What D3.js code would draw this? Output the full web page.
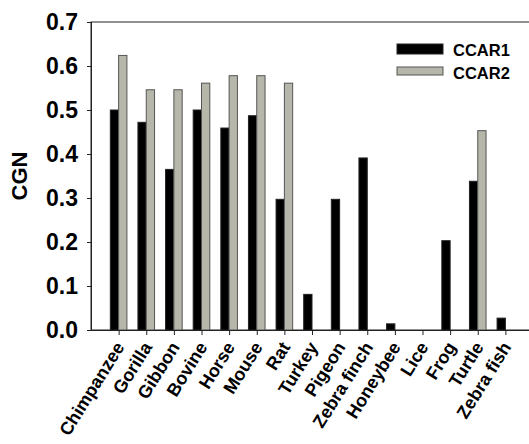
<!DOCTYPE html>
<html>
<head>
<meta charset="utf-8">
<script src="https://cdn.jsdelivr.net/npm/d3@7"></script>
<style>
  body { margin: 0; background: #fff; }
  svg { display: block; font-family: Arial, "Liberation Sans", sans-serif; font-weight: bold; }
</style>
</head>
<body>
<svg id="chart" width="529" height="444"></svg>
<script>
// species on the x axis
const species = ["Chimpanzee", "Gorilla", "Gibbon", "Bovine", "Horse", "Mouse", "Rat",
  "Turkey", "Pigeon", "Zebra finch", "Honeybee", "Lice", "Frog", "Turtle", "Zebra fish"]

// CGN values (null = no bar)
const ccar1 = [0.500, 0.472, 0.365, 0.500, 0.459, 0.487, 0.297,
  0.081, 0.297, 0.391, 0.014, null, 0.203, 0.338, 0.027]
const ccar2 = [0.624, 0.546, 0.546, 0.561, 0.578, 0.578, 0.561,
  null, null, null, null, null, null, 0.453, null]

const yTicks = [0, 0.1, 0.2, 0.3, 0.4, 0.5, 0.6, 0.7]
const seriesNames = ["CCAR1", "CCAR2"]
const seriesColors = ["#000000", "#b6b6aa"]

// plot box ("top" is taken by window.top, so prefix these)
const pLeft = 91, pTop = 22, pBottom = 330, pRight = 533
const barW = 8.3

const svg = d3.select("#chart")

const x = d3.scalePoint().domain(species).range([pLeft, pRight]).padding(1)
const y = d3.scaleLinear().domain([0, 0.7]).range([pBottom, pTop])

// frame (right side runs off the picture)
svg.append("rect")
  .attr("x", pLeft).attr("y", pTop)
  .attr("width", pRight - pLeft).attr("height", pBottom - pTop)
  .attr("fill", "none").attr("stroke", "#222").attr("stroke-width", 1)

// bars
const series = [ccar1, ccar2]
series.forEach((vals, si) => {
  svg.append("g").selectAll("rect")
    .data(species.map((s, i) => ({ s: s, v: vals[i] })).filter(d => d.v != null))
    .join("rect")
    .attr("x", d => si == 0 ? x(d.s) - barW : x(d.s))
    .attr("y", d => y(d.v))
    .attr("width", barW)
    .attr("height", d => pBottom - y(d.v))
    .attr("fill", seriesColors[si])
    .attr("stroke", si == 0 ? "#222" : "#555")
    .attr("stroke-width", 1)
})

// y axis
const yAxis = svg.append("g")
  .attr("transform", `translate(${pLeft},0)`)
  .call(d3.axisLeft(y).tickValues(yTicks).tickFormat(d3.format(".1f")).tickSize(4).tickPadding(9))
yAxis.select(".domain").attr("stroke", "#222")
yAxis.selectAll(".tick line").attr("stroke", "#222")
yAxis.selectAll("text")
  .attr("fill", "#000")
  .style("font-size", "23px")
  .style("font-family", "Arial, 'Liberation Sans', sans-serif")
  .style("font-weight", "bold")

// x axis
const xAxis = svg.append("g")
  .attr("transform", `translate(0,${pBottom})`)
  .call(d3.axisBottom(x).tickSize(5).tickSizeOuter(0))
xAxis.select(".domain").attr("stroke", "#222")
xAxis.selectAll(".tick line").attr("stroke", "#222")
xAxis.selectAll("text")
  .attr("fill", "#000")
  .style("font-size", "18px")
  .style("font-family", "Arial, 'Liberation Sans', sans-serif")
  .style("font-weight", "bold")
  .attr("text-anchor", "end")
  .attr("y", 0).attr("dy", "0")
  .attr("transform", "translate(6,17) rotate(-58)")

// y title
svg.append("text")
  .attr("transform", `translate(27,${(pTop + pBottom) / 2}) rotate(-90)`)
  .attr("text-anchor", "middle")
  .style("font-size", "22px")
  .attr("fill", "#000")
  .text("CGN")

// legend
const leg = svg.append("g")
seriesNames.forEach((n, i) => {
  leg.append("rect")
    .attr("x", 397).attr("y", 44 + i * 23)
    .attr("width", 46).attr("height", i == 0 ? 10 : 8)
    .attr("fill", seriesColors[i])
    .attr("stroke", i == 0 ? "#222" : "#555")
  leg.append("text")
    .attr("x", 453).attr("y", 56 + i * 23)
    .style("font-size", "16.5px")
    .attr("fill", "#000")
    .text(n)
})
</script>
</body>
</html>
